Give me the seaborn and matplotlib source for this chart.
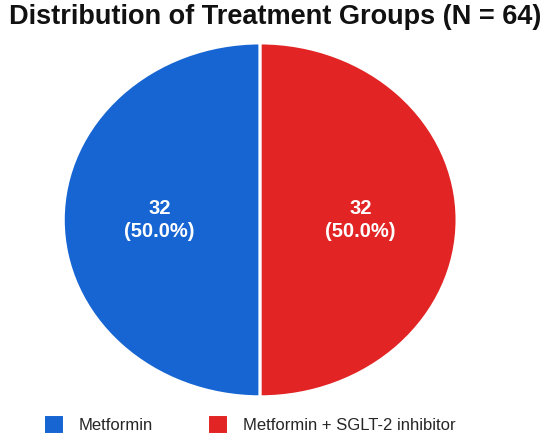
import matplotlib
matplotlib.use("Agg")
import matplotlib.pyplot as plt
import seaborn as sns

sns.set_theme(style="white")
plt.rcParams['font.family'] = ['Liberation Sans', 'DejaVu Sans']

# data
groups = ['Metformin', 'Metformin + SGLT-2 inhibitor']
counts = [32, 32]
colors = ['#1665D3', '#E22424']
total = sum(counts)

fig = plt.figure(figsize=(5.5, 4.38), dpi=100)
ax = fig.add_axes([0.115, 0.094, 0.716, 0.808])

def fmt(pct):
    n = int(round(pct * total / 100))
    return f"{n}\n({pct:.1f}%)"

wedges, texts, autotexts = ax.pie(
    counts, colors=colors, startangle=90, autopct=fmt, pctdistance=0.51,
    wedgeprops=dict(edgecolor='white', linewidth=2.2),
    textprops=dict(color='white', fontsize=14.5, fontweight='semibold',
                   linespacing=1.25),
)
ax.set_aspect('auto')
ax.set_xlim(-1, 1)
ax.set_ylim(-1, 1)

fig.suptitle('Distribution of Treatment Groups (N = 64)', fontsize=19.5,
             fontweight='bold', color='#111111', y=0.99, x=0.5)

fig.legend(wedges, groups, loc='center left', bbox_to_anchor=(0.066, 0.032),
           borderaxespad=0, ncol=2, frameon=False, fontsize=12,
           handlelength=1.26, handleheight=1.4, columnspacing=3.3,
           handletextpad=0.85)

fig.savefig('out.png', dpi=100, facecolor='white')
